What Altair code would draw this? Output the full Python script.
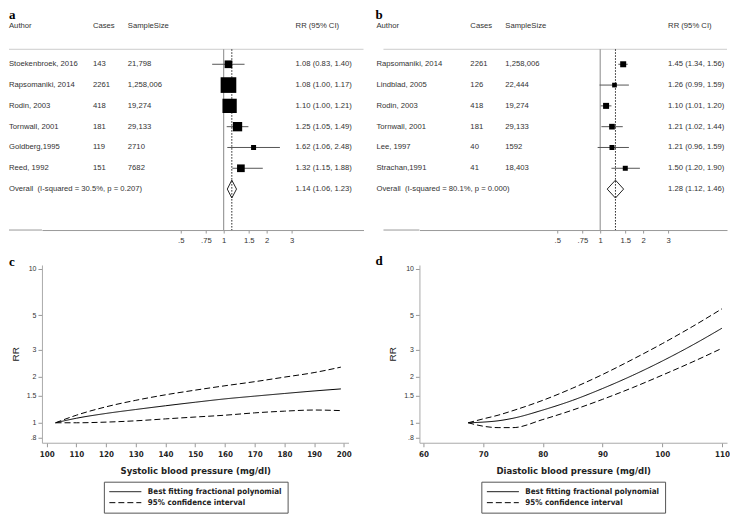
import math
import altair as alt
import pandas as pd

# ---------------- data: panel a ----------------
a_author = ["Stoekenbroek, 2016", "Rapsomaniki, 2014", "Rodin, 2003", "Tornwall, 2001", "Goldberg,1995", "Reed, 1992"]
a_cases = ["143", "2261", "418", "181", "119", "151"]
a_sample = ["21,798", "1,258,006", "19,274", "29,133", "2710", "7682"]
a_rr = [1.08, 1.08, 1.10, 1.25, 1.62, 1.32]
a_lo = [0.83, 1.00, 1.00, 1.05, 1.06, 1.15]
a_hi = [1.40, 1.17, 1.21, 1.49, 2.48, 1.88]
a_weight = [8.7, 36.1, 30.1, 12.8, 3.7, 8.7]
a_overall = [1.14, 1.06, 1.23]
a_overall_label = "Overall\u00a0 (I-squared = 30.5%, p = 0.207)"

# ---------------- data: panel b ----------------
b_author = ["Rapsomaniki, 2014", "Lindblad, 2005", "Rodin, 2003", "Tornwall, 2001", "Lee, 1997", "Strachan,1991"]
b_cases = ["2261", "126", "418", "181", "40", "41"]
b_sample = ["1,258,006", "22,444", "19,274", "29,133", "1592", "18,403"]
b_rr = [1.45, 1.26, 1.10, 1.21, 1.21, 1.50]
b_lo = [1.34, 0.99, 1.01, 1.02, 0.96, 1.20]
b_hi = [1.56, 1.59, 1.20, 1.44, 1.59, 1.90]
b_weight = [20.5, 12.5, 20.5, 18.2, 14.2, 14.2]
b_overall = [1.28, 1.12, 1.46]
b_overall_label = "Overall\u00a0 (I-squared = 80.1%, p = 0.000)"

forest_ticks = [0.5, 0.75, 1, 1.5, 2, 3]

# ---------------- data: panel c (systolic) ----------------
sbp_x = [103, 110, 120, 130, 140, 150, 160, 170, 180, 190, 199]
sbp_fit = [1.00, 1.07, 1.15, 1.22, 1.29, 1.36, 1.43, 1.49, 1.55, 1.61, 1.66]
sbp_upper = [1.00, 1.12, 1.27, 1.40, 1.52, 1.63, 1.74, 1.85, 1.98, 2.12, 2.30]
sbp_lower = [1.00, 1.00, 1.01, 1.03, 1.06, 1.09, 1.12, 1.16, 1.19, 1.21, 1.20]
sbp_ticks = [100, 110, 120, 130, 140, 150, 160, 170, 180, 190, 200]

# ---------------- data: panel d (diastolic) ----------------
dbp_x = [67.5, 70, 72.5, 75, 80, 85, 90, 95, 100, 105, 110]
dbp_fit = [1.00, 1.01, 1.03, 1.07, 1.21, 1.40, 1.67, 2.03, 2.52, 3.19, 4.12]
dbp_upper = [1.00, 1.06, 1.12, 1.20, 1.40, 1.68, 2.06, 2.58, 3.27, 4.21, 5.51]
dbp_lower = [1.00, 0.95, 0.93, 0.93, 1.05, 1.21, 1.42, 1.69, 2.04, 2.48, 3.05]
dbp_ticks = [60, 70, 80, 90, 100, 110]

rr_ticks = [0.8, 1, 1.5, 2, 3, 5, 10]
FIT = "Best fitting fractional polynomial"
CI = "95% confidence interval"

# ---------------- styling ----------------
FONT = "Liberation Sans, Arial, sans-serif"
NARROW = "DejaVu Sans Condensed, Liberation Sans, sans-serif"
SERIF = "Liberation Serif, Times New Roman, serif"
LABEL_EXPR = "indexof(datum.label, '0.') == 0 ? substring(datum.label, 1) : datum.label"

one = pd.DataFrame({"k": [0]})
H1 = 222
ROW0, STEP = 56.0, 20.83
YDOM = [1 - ROW0 / STEP, 1 - ROW0 / STEP + H1 / STEP]
PX_PER_LN = 62.0
HEAD_Y = 18


def txt(text, x, y, **kw):
    style = dict(font=FONT, fontSize=7.7, color="#333", align="left", baseline="middle")
    style.update(kw)
    return alt.Chart(one).mark_text(text=text, **style).encode(x=alt.value(x), y=alt.value(y))


def hline(x1, x2, y, color):
    return alt.Chart(one).mark_rule(color=color, strokeWidth=1).encode(
        x=alt.value(x1), x2=alt.value(x2), y=alt.value(y))


def forest(letter, authors, cases, sample, rr, lo, hi, weight, overall, overall_label,
           width, one_px, size_max, left, line_left, letter_x, rr_x):
    n = len(authors)
    xs = alt.Scale(type="log", nice=False,
                   domain=[math.exp(-one_px / PX_PER_LN), math.exp((width - one_px) / PX_PER_LN)])
    ys = alt.Scale(domain=YDOM, reverse=True, nice=False, zero=False)
    xaxis = alt.Axis(values=forest_ticks, format="~g", labelExpr=LABEL_EXPR, title=None, grid=False,
                     domainColor="#999", tickColor="#999", tickSize=3, labelFont=FONT,
                     labelFontSize=7.7, labelColor="#333", labelPadding=3)
    df = pd.DataFrame({
        "row": list(range(1, n + 1)), "author": authors, "cases": cases, "sample": sample,
        "rr": rr, "lo": lo, "hi": hi, "w": weight,
        "label": [f"{a:.2f} ({b:.2f}, {c:.2f})" for a, b, c in zip(rr, lo, hi)],
    })
    est, olo, ohi = overall
    orow = n + 1
    ov = pd.DataFrame({"row": [orow], "author": [overall_label],
                       "label": [f"{est:.2f} ({olo:.2f}, {ohi:.2f})"], "rr": [est]})
    half = 0.43
    dia = pd.DataFrame({"x": [olo, est, ohi, est, olo],
                        "y": [orow, orow - half, orow, orow + half, orow], "o": [0, 1, 2, 3, 4]})
    null = pd.DataFrame({"v": [1.0]})

    X = lambda f: alt.X(f, scale=xs, axis=xaxis)
    Y = lambda f: alt.Y(f, scale=ys, axis=None)

    layers = [
        hline(line_left, width, 41, "#cccccc"),
        hline(line_left, 0, H1, "#999999"),
        alt.Chart(null).mark_rule(color="#888", strokeWidth=1).encode(
            x=X("v:Q"), y=alt.value(41), y2=alt.value(H1)),
        alt.Chart(ov).mark_rule(color="#222", strokeWidth=1, strokeDash=[1.5, 1.5]).encode(
            x=X("rr:Q"), y=alt.value(41), y2=alt.value(H1)),
        alt.Chart(df).mark_rule(color="#555", strokeWidth=1).encode(
            x=X("lo:Q"), x2="hi:Q", y=Y("row:Q")),
        alt.Chart(df).mark_square(color="black", opacity=1).encode(
            x=X("rr:Q"), y=Y("row:Q"),
            size=alt.Size("w:Q", scale=alt.Scale(domain=[0, 100], range=[0, size_max]), legend=None)),
        alt.Chart(dia).mark_line(color="#222", strokeWidth=1).encode(
            x=X("x:Q"), y=Y("y:Q"), order="o:Q"),
    ]
    tstyle = dict(font=FONT, fontSize=7.7, color="#333", align="left", baseline="middle")
    for field, xpos in [("author", left), ("cases", 51), ("sample", 86), ("label", rr_x)]:
        layers.append(alt.Chart(df).mark_text(**tstyle).encode(
            x=alt.value(xpos), y=Y("row:Q"), text=f"{field}:N"))
    for field, xpos in [("author", left), ("label", rr_x)]:
        layers.append(alt.Chart(ov).mark_text(**tstyle).encode(
            x=alt.value(xpos), y=Y("row:Q"), text=f"{field}:N"))
    layers += [
        txt("Author", left, HEAD_Y),
        txt("Cases", 51, HEAD_Y),
        txt("SampleSize", 86, HEAD_Y),
        txt("RR (95% CI)", rr_x, HEAD_Y),
        txt(letter, letter_x, 10.5, font=SERIF, fontSize=13, fontWeight="bold", color="black",
            baseline="alphabetic"),
    ]
    return alt.layer(*layers).properties(width=width, height=H1)


def curve_panel(letter, letter_x, letter_y, xv, fit, upper, lower, xdom, xticks, xtitle, width):
    recs = []
    for name, series, vals in [("fit", FIT, fit), ("upper", CI, upper), ("lower", CI, lower)]:
        for x, v in zip(xv, vals):
            recs.append({"x": x, "rr": v, "curve": name, "series": series})
    df = pd.DataFrame(recs)
    H2 = 178
    ydom = [math.exp(-20 / 66.9), math.exp(158 / 66.9)]
    line = alt.Chart(df).mark_line(color="black", strokeWidth=1, interpolate="monotone").encode(
        x=alt.X("x:Q", scale=alt.Scale(domain=xdom, nice=False, zero=False),
                axis=alt.Axis(values=xticks, title=xtitle, grid=False, domainColor="#aaa",
                              tickColor="#999", tickSize=4, labelFont=NARROW, labelFontSize=8,
                              labelFontWeight="bold", labelColor="#222", labelPadding=4,
                              titleFont=NARROW, titleFontSize=9.5, titleFontWeight="bold",
                              titleColor="#222", titlePadding=7)),
        y=alt.Y("rr:Q", scale=alt.Scale(type="log", domain=ydom, nice=False),
                axis=alt.Axis(values=rr_ticks, format="~g", labelExpr=LABEL_EXPR, title="RR",
                              grid=False, domainColor="#aaa", tickColor="#999", tickSize=4,
                              labelFont=FONT, labelFontSize=7, labelColor="#333", labelPadding=2,
                              titleFont=FONT, titleFontSize=10, titleFontWeight="normal",
                              titleColor="#222", titlePadding=6)),
        detail="curve:N",
        strokeDash=alt.StrokeDash(
            "series:N",
            scale=alt.Scale(domain=[FIT, CI], range=[[1, 0], [6, 3]]),
            legend=alt.Legend(title=None, orient="none", legendX=62, legendY=217,
                              direction="vertical", strokeColor="#555", fillColor="white",
                              padding=5, symbolType="stroke", symbolSize=1024,
                              symbolStrokeColor="black", symbolStrokeWidth=1,
                              labelFont=NARROW, labelFontSize=8, labelFontWeight="bold",
                              labelColor="#222", labelLimit=300, clipHeight=10, rowPadding=1,
                              labelOffset=6)),
    )
    lab = txt(letter, letter_x, letter_y, font=SERIF, fontSize=13, fontWeight="bold",
              color="black", baseline="alphabetic")
    return alt.layer(line, lab).properties(width=width, height=H2)


A = forest("a", a_author, a_cases, a_sample, a_rr, a_lo, a_hi, a_weight, a_overall, a_overall_label,
           width=322, one_px=182, size_max=681, left=-33, line_left=-33, letter_x=-33, rr_x=254)
B = forest("b", b_author, b_cases, b_sample, b_rr, b_lo, b_hi, b_weight, b_overall, b_overall_label,
           width=308, one_px=181, size_max=176, left=-43, line_left=-36, letter_x=-44, rr_x=249)
C = curve_panel("c", -33, 1, sbp_x, sbp_fit, sbp_upper, sbp_lower, [98.42, 201.58], sbp_ticks,
                "Systolic blood pressure (mg/dl)", 307)
D = curve_panel("d", -44, 0, dbp_x, dbp_fit, dbp_upper, dbp_lower, [59.33, 110.84], dbp_ticks,
                "Diastolic blood pressure (mg/dl)", 308)

chart = alt.concat(A, B, C, D, columns=2, spacing={"row": 35, "column": 56}, bounds="flush").resolve_scale(
    strokeDash="independent", size="independent").resolve_legend(strokeDash="independent").properties(
    padding=0).configure_view(stroke=None)

chart.save("out.html", embed_options={"renderer": "svg", "actions": False})
